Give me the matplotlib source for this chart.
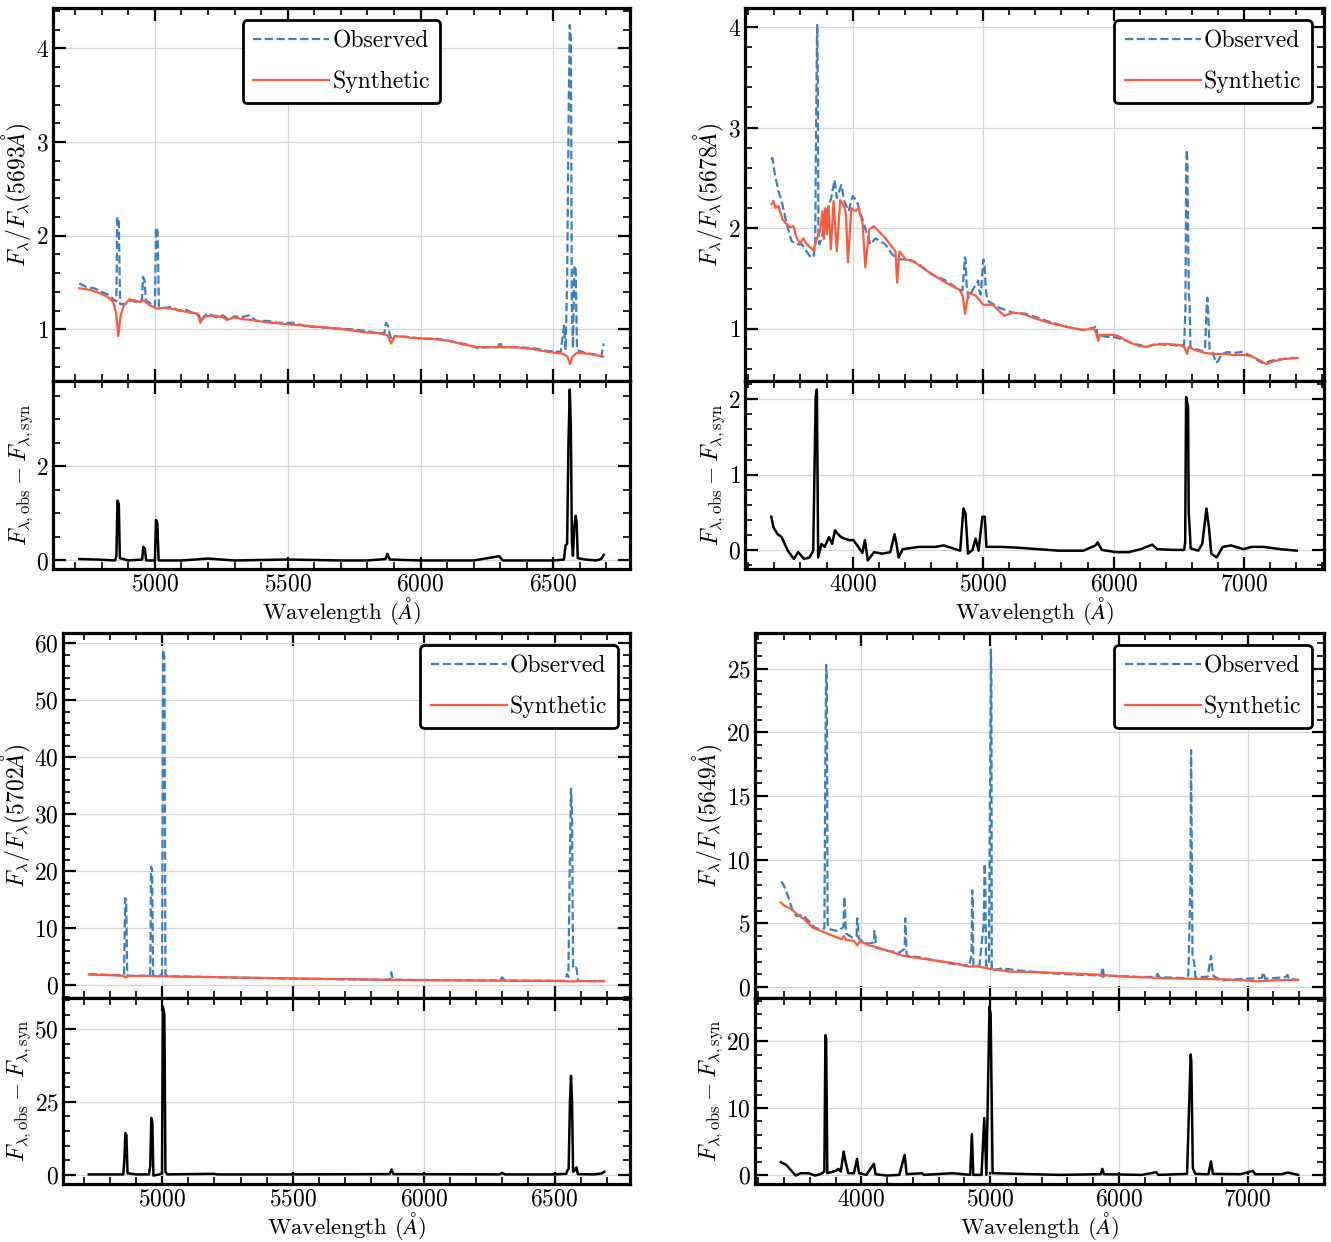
import matplotlib
matplotlib.use("Agg")
import matplotlib.pyplot as plt
from matplotlib.ticker import AutoMinorLocator, MultipleLocator

plt.rcParams['font.family'] = 'serif'
plt.rcParams['font.serif'] = ['cmr10', 'DejaVu Serif']
plt.rcParams['mathtext.fontset'] = 'cm'
plt.rcParams['axes.formatter.use_mathtext'] = True
plt.rcParams['axes.unicode_minus'] = False

# ---- panel 1 (norm 5693) ----
obs1_wave = [4715, 4743, 4771, 4799, 4826, 4847, 4855, 4858, 4864, 4869, 4889, 4910, 4931, 4951, 4955, 4961,
             4966, 4986, 5000, 5004, 5010, 5015, 5035, 5063, 5090, 5118, 5146, 5166, 5174, 5188, 5201, 5229,
             5257, 5278, 5299, 5326, 5354, 5382, 5424, 5465, 5521, 5576, 5632, 5688, 5743, 5799, 5840, 5864,
             5870, 5877, 5884, 5893, 5903, 5951, 6007, 6063, 6118, 6174, 6215, 6257, 6292, 6299, 6307, 6354,
             6424, 6479, 6528, 6540, 6546, 6552, 6558, 6562, 6566, 6570, 6574, 6579, 6584, 6589, 6618, 6660,
             6681, 6690]
obs1_flux = [1.49, 1.45, 1.44, 1.40, 1.37, 1.31, 1.30, 2.20, 2.15, 1.27, 1.27, 1.31, 1.29, 1.31, 1.56, 1.52,
             1.31, 1.27, 1.24, 2.09, 2.05, 1.24, 1.23, 1.24, 1.20, 1.21, 1.17, 1.15, 1.08, 1.15, 1.17, 1.13,
             1.15, 1.10, 1.14, 1.13, 1.15, 1.09, 1.09, 1.07, 1.07, 1.03, 1.02, 1.01, 1.00, 0.98, 0.96, 0.96,
             1.07, 1.04, 0.95, 0.87, 0.93, 0.92, 0.90, 0.90, 0.87, 0.84, 0.80, 0.81, 0.81, 0.87, 0.81, 0.81,
             0.80, 0.77, 0.76, 1.04, 0.78, 1.50, 3.40, 4.25, 4.10, 1.20, 0.80, 1.66, 1.68, 0.78, 0.75, 0.73,
             0.71, 0.85]
syn1_wave = [4715, 4757, 4799, 4826, 4843, 4854, 4862, 4871, 4882, 4903, 4924, 4944, 4958, 4979, 5007, 5035,
             5063, 5097, 5132, 5160, 5171, 5181, 5215, 5257, 5271, 5299, 5326, 5368, 5410, 5479, 5563, 5646,
             5715, 5785, 5840, 5875, 5889, 5903, 5965, 6035, 6104, 6160, 6215, 6285, 6354, 6424, 6479, 6535,
             6553, 6563, 6572, 6590, 6632, 6688]
syn1_flux = [1.44, 1.42, 1.38, 1.34, 1.29, 1.17, 0.93, 1.15, 1.25, 1.32, 1.31, 1.29, 1.31, 1.26, 1.22, 1.23,
             1.22, 1.20, 1.18, 1.17, 1.07, 1.13, 1.15, 1.13, 1.10, 1.13, 1.11, 1.10, 1.08, 1.06, 1.04, 1.02,
             1.00, 0.97, 0.96, 0.94, 0.85, 0.93, 0.91, 0.90, 0.88, 0.84, 0.81, 0.81, 0.81, 0.79, 0.76, 0.74,
             0.71, 0.63, 0.71, 0.75, 0.74, 0.71]
res1_wave = [4715, 4780, 4850, 4855, 4859, 4864, 4868, 4900, 4952, 4956, 4962, 4967, 5000, 5004, 5009, 5014,
             5100, 5200, 5300, 5400, 5500, 5600, 5700, 5800, 5868, 5875, 5884, 6000, 6100, 6200, 6296, 6310,
             6500, 6540, 6546, 6552, 6557, 6562, 6566, 6570, 6574, 6579, 6584, 6588, 6592, 6620, 6660, 6680,
             6690]
res1_flux = [0.03, 0.02, 0.00, 0.10, 1.27, 1.20, 0.05, 0.00, 0.02, 0.29, 0.25, 0.00, 0.00, 0.86, 0.80, 0.00,
             0.00, 0.04, 0.00, 0.01, 0.02, 0.01, 0.00, 0.00, 0.03, 0.14, 0.02, 0.00, 0.00, 0.00, 0.09, 0.00,
             0.00, 0.02, 0.32, 0.35, 2.50, 3.63, 2.80, 0.40, 0.10, 0.70, 0.95, 0.80, 0.05, 0.02, 0.00, 0.03,
             0.12]

# ---- panel 2 (norm 5678) ----
obs2_wave = [3379, 3385, 3405, 3431, 3456, 3495, 3533, 3572, 3610, 3636, 3674, 3700, 3713, 3720, 3726, 3729,
             3733, 3738, 3744, 3764, 3803, 3836, 3862, 3879, 3913, 3936, 3969, 4000, 4033, 4072, 4136, 4174,
             4251, 4303, 4354, 4431, 4508, 4610, 4713, 4815, 4841, 4855, 4859, 4866, 4872, 4885, 4944, 4962,
             4970, 4982, 4996, 5002, 5010, 5020, 5033, 5123, 5226, 5328, 5482, 5640, 5760, 5850, 5865, 5878,
             5900, 5950, 6000, 6050, 6100, 6150, 6200, 6250, 6300, 6350, 6400, 6450, 6500, 6540, 6550, 6556,
             6560, 6565, 6570, 6576, 6582, 6588, 6620, 6680, 6700, 6712, 6718, 6725, 6735, 6760, 6785, 6800,
             6830, 6870, 6920, 6980, 7040, 7090, 7140, 7180, 7230, 7300, 7350, 7410]
obs2_flux = [2.68, 2.70, 2.53, 2.37, 2.27, 2.04, 1.87, 1.84, 1.84, 1.79, 1.72, 1.71, 1.84, 3.00, 3.82, 4.02,
             3.50, 1.90, 1.84, 1.90, 2.17, 2.30, 2.48, 2.30, 2.43, 2.27, 2.17, 2.32, 2.27, 2.10, 1.84, 1.90,
             1.84, 1.74, 1.69, 1.69, 1.64, 1.54, 1.48, 1.39, 1.38, 1.60, 1.71, 1.69, 1.45, 1.31, 1.44, 1.48,
             1.38, 1.34, 1.60, 1.69, 1.64, 1.40, 1.28, 1.21, 1.16, 1.15, 1.08, 1.02, 0.99, 1.01, 1.03, 0.92,
             0.93, 0.92, 0.92, 0.90, 0.88, 0.85, 0.84, 0.82, 0.84, 0.85, 0.84, 0.84, 0.83, 0.84, 1.20, 2.60,
             2.78, 2.65, 2.00, 1.35, 1.25, 0.82, 0.80, 0.78, 0.80, 1.20, 1.31, 1.15, 0.80, 0.76, 0.66, 0.68,
             0.75, 0.77, 0.76, 0.77, 0.74, 0.70, 0.66, 0.67, 0.69, 0.70, 0.71, 0.71]
syn2_wave = [3379, 3392, 3410, 3431, 3462, 3487, 3521, 3546, 3572, 3597, 3623, 3649, 3700, 3726, 3751, 3769,
             3779, 3790, 3803, 3815, 3833, 3854, 3879, 3905, 3931, 3949, 3964, 3990, 4021, 4046, 4077, 4097,
             4128, 4162, 4200, 4251, 4303, 4328, 4341, 4359, 4405, 4469, 4533, 4610, 4713, 4815, 4841, 4862,
             4887, 4944, 5000, 5072, 5162, 5226, 5303, 5405, 5508, 5640, 5760, 5850, 5870, 5882, 5895, 5950,
             6000, 6050, 6100, 6150, 6200, 6250, 6300, 6400, 6500, 6540, 6563, 6575, 6620, 6700, 6780, 6850,
             6920, 7000, 7050, 7100, 7170, 7230, 7300, 7410]
syn2_flux = [2.24, 2.27, 2.20, 2.22, 2.09, 2.05, 2.01, 2.02, 1.90, 1.85, 1.90, 1.84, 1.78, 1.90, 1.97, 2.17,
             1.89, 2.20, 1.94, 2.22, 1.79, 2.27, 1.77, 2.28, 2.23, 2.14, 1.66, 2.20, 2.17, 2.20, 2.04, 1.61,
             1.99, 2.02, 1.97, 1.90, 1.81, 1.77, 1.46, 1.77, 1.69, 1.67, 1.61, 1.54, 1.46, 1.39, 1.34, 1.15,
             1.36, 1.33, 1.24, 1.24, 1.13, 1.16, 1.15, 1.10, 1.06, 1.02, 0.99, 1.00, 0.94, 0.88, 0.94, 0.94,
             0.94, 0.92, 0.88, 0.85, 0.83, 0.82, 0.84, 0.85, 0.84, 0.82, 0.75, 0.82, 0.79, 0.76, 0.75, 0.75,
             0.74, 0.74, 0.73, 0.70, 0.65, 0.68, 0.70, 0.71]
res2_wave = [3377, 3393, 3425, 3456, 3503, 3550, 3582, 3629, 3670, 3698, 3717, 3726, 3736, 3761, 3786, 3818,
             3843, 3865, 3887, 3912, 3937, 3975, 4006, 4044, 4075, 4094, 4116, 4164, 4226, 4289, 4321, 4336,
             4352, 4384, 4509, 4635, 4698, 4824, 4849, 4865, 4884, 4918, 4943, 4965, 4994, 5013, 5025, 5138,
             5264, 5421, 5579, 5767, 5862, 5877, 5909, 6019, 6113, 6208, 6296, 6333, 6459, 6540, 6548, 6555,
             6563, 6570, 6575, 6582, 6590, 6648, 6679, 6711, 6730, 6748, 6789, 6836, 6899, 6994, 7057, 7151,
             7277, 7403]
res2_flux = [0.44, 0.30, 0.21, 0.17, -0.01, -0.12, -0.03, -0.12, -0.10, -0.01, 2.04, 2.13, -0.10, 0.08, 0.04,
             0.17, 0.08, 0.26, 0.21, 0.17, 0.15, 0.13, 0.13, 0.04, -0.04, 0.13, -0.14, -0.03, -0.05, -0.03,
             0.21, 0.08, -0.10, 0.01, 0.04, 0.04, 0.06, -0.01, 0.55, 0.48, -0.05, 0.00, 0.15, -0.01, 0.44,
             0.44, 0.04, 0.04, 0.03, 0.01, -0.01, -0.01, 0.06, 0.10, 0.00, -0.03, -0.03, 0.01, 0.07, 0.01,
             0.00, 0.00, 0.10, 2.03, 1.96, 1.90, 0.50, 0.30, 0.02, -0.01, 0.08, 0.55, 0.30, -0.05, -0.10,
             0.04, 0.06, 0.01, 0.04, 0.04, 0.01, -0.01]

# ---- panel 3 (norm 5702) ----
obs3_wave = [4720, 4800, 4850, 4855, 4859, 4863, 4867, 4900, 4950, 4955, 4958, 4962, 4966, 4990, 5000, 5004,
             5009, 5013, 5020, 5100, 5200, 5300, 5400, 5500, 5600, 5700, 5800, 5870, 5876, 5882, 6000, 6100,
             6200, 6290, 6300, 6310, 6400, 6500, 6540, 6548, 6553, 6558, 6563, 6567, 6571, 6580, 6584, 6590,
             6650, 6690]
obs3_flux = [1.95, 1.85, 1.75, 2.0, 15.3, 15.0, 1.7, 1.7, 1.7, 2.0, 20.8, 20.3, 1.7, 1.65, 2.0, 58.9,
             57.5, 2.0, 1.6, 1.55, 1.45, 1.35, 1.28, 1.2, 1.13, 1.07, 1.02, 1.0, 2.3, 1.0, 0.95, 0.92,
             0.88, 0.86, 1.4, 0.86, 0.82, 0.8, 0.8, 2.0, 1.5, 20.0, 34.5, 30.0, 3.0, 3.2, 3.0, 0.8,
             0.75, 0.8]
syn3_wave = [4720, 4800, 4850, 4862, 4875, 4950, 5000, 5100, 5200, 5300, 5400, 5500, 5600, 5700, 5800, 5890,
             6000, 6100, 6200, 6300, 6400, 6500, 6563, 6600, 6690]
syn3_flux = [1.9, 1.8, 1.7, 1.4, 1.65, 1.65, 1.6, 1.52, 1.45, 1.37, 1.3, 1.22, 1.15, 1.08, 1.03, 0.95,
             0.93, 0.9, 0.86, 0.84, 0.8, 0.78, 0.7, 0.75, 0.72]
res3_wave = [4720, 4800, 4852, 4856, 4860, 4864, 4868, 4900, 4950, 4955, 4959, 4963, 4967, 4990, 5000, 5003,
             5009, 5013, 5020, 5200, 5210, 5500, 5870, 5877, 5884, 6290, 6300, 6310, 6500, 6545, 6549, 6554,
             6559, 6563, 6567, 6571, 6578, 6584, 6589, 6650, 6680, 6690]
res3_flux = [0.1, 0.1, 0.1, 5.0, 14.3, 13.5, 0.5, 0.1, 0.1, 3.0, 19.5, 18.0, -0.3, 0.1, 0.5, 57.8,
             55.0, 1.0, 0.1, 0.3, 0.1, 0.1, 0.2, 1.8, 0.2, 0.1, 0.6, 0.1, 0.1, 0.3, 1.5, 2.0,
             25.0, 34.0, 25.0, 1.0, 1.5, 2.5, 0.2, 0.1, 0.4, 1.0]

# ---- panel 4 (norm 5649) ----
obs4_wave = [3374, 3385, 3406, 3431, 3463, 3495, 3543, 3591, 3639, 3687, 3712, 3720, 3726, 3731, 3737, 3750,
             3790, 3815, 3860, 3866, 3872, 3880, 3927, 3962, 3967, 3973, 3980, 4006, 4054, 4096, 4101, 4107,
             4113, 4198, 4294, 4336, 4340, 4346, 4352, 4454, 4581, 4709, 4837, 4855, 4860, 4865, 4870, 4917,
             4950, 4957, 4963, 4968, 4990, 5002, 5006, 5010, 5013, 5093, 5220, 5380, 5540, 5700, 5863, 5874,
             5885, 6022, 6179, 6290, 6300, 6315, 6498, 6540, 6556, 6561, 6566, 6572, 6585, 6595, 6690, 6708,
             6716, 6725, 6735, 6802, 6978, 7110, 7122, 7137, 7297, 7310, 7320, 7393]
obs4_flux = [8.27, 8.2, 7.75, 7.10, 6.07, 5.56, 5.68, 5.17, 4.65, 4.52, 4.60, 18.0, 25.3, 24.0, 5.0, 4.55,
             4.45, 4.40, 4.70, 7.10, 6.30, 4.20, 3.90, 4.00, 5.40, 4.80, 3.80, 3.60, 3.40, 3.50, 4.40, 4.20,
             3.10, 2.85, 2.70, 3.00, 5.40, 4.00, 2.45, 2.33, 2.07, 1.81, 1.68, 2.5, 7.60, 6.8, 1.68, 1.68,
             5.0, 9.70, 8.0, 1.68, 1.7, 20.0, 26.5, 24.0, 1.30, 1.47, 1.30, 1.16, 1.03, 0.96, 0.90, 1.55,
             0.90, 0.85, 0.78, 0.80, 1.03, 0.78, 0.70, 0.90, 8.0, 18.6, 12.0, 2.3, 2.0, 0.78, 0.80, 2.00,
             2.45, 1.5, 0.85, 0.52, 0.65, 0.70, 1.16, 0.65, 0.78, 0.95, 0.70, 0.52]
syn4_wave = [3374, 3400, 3463, 3500, 3559, 3623, 3687, 3751, 3815, 3847, 3863, 3880, 3942, 3968, 3990, 4040,
             4070, 4102, 4166, 4262, 4326, 4454, 4581, 4709, 4837, 4901, 5000, 5157, 5380, 5700, 5860, 5875,
             5890, 6022, 6342, 6556, 6818, 6978, 7074, 7201, 7393]
syn4_flux = [6.64, 6.40, 6.07, 5.70, 5.30, 4.65, 4.40, 4.13, 3.88, 3.75, 4.00, 3.70, 3.62, 3.28, 3.62, 3.35,
             3.23, 3.18, 2.97, 2.66, 2.45, 2.25, 2.07, 1.89, 1.60, 1.63, 1.42, 1.21, 1.16, 1.03, 0.96, 0.78,
             0.92, 0.83, 0.70, 0.65, 0.60, 0.52, 0.44, 0.52, 0.57]
res4_wave = [3374, 3415, 3457, 3489, 3527, 3591, 3639, 3680, 3712, 3720, 3726, 3735, 3799, 3821, 3840, 3862,
             3879, 3898, 3942, 3966, 3981, 4038, 4097, 4109, 4198, 4294, 4336, 4351, 4470, 4486, 4709, 4845,
             4858, 4869, 4933, 4954, 4971, 4995, 5004, 5019, 5220, 5540, 5860, 5872, 5885, 6179, 6291, 6307,
             6530, 6558, 6563, 6575, 6594, 6696, 6716, 6731, 6946, 7042, 7058, 7265, 7313, 7393]
res4_flux = [1.9, 1.5, 0.6, -0.1, 0.25, 0.25, -0.1, 0.1, 0.5, 20.9, 20.5, 0.25, 0.6, 0.9, 0.5, 3.5,
             1.76, 0.25, 0.25, 2.4, 0.25, 0.0, 1.66, 0.1, -0.1, 0.0, 3.0, 0.1, 0.25, 0.0, 0.25, 0.0,
             6.1, 0.0, 0.0, 8.5, 0.0, 25.2, 24.0, 0.25, 0.15, 0.0, 0.1, 0.9, 0.1, 0.0, 0.4, 0.0,
             0.15, 18.0, 17.0, 1.0, 0.15, 0.1, 2.0, 0.15, 0.1, 0.6, 0.1, 0.1, 0.35, 0.0]

norm_waves = ['5693', '5678', '5702', '5649']
# major tick steps: x, main y, residual y
x_steps = [500, 1000, 500, 1000]
y_steps = [1, 1, 10, 5]
r_steps = [2, 1, 25, 10]

OBS_COLOR = '#3b7fc0'
SYN_COLOR = '#ff5a3d'
W, H = 1331, 1242

# axes boxes in pixels: left, right, top, split, bottom
boxes = [(53, 630, 8, 381, 569),
         (745, 1324, 8, 381, 569),
         (63, 630, 633, 998, 1184),
         (755, 1324, 633, 998, 1184)]
legend_locs = ['upper center', 'upper right', 'upper right', 'upper right']

panels = [(obs1_wave, obs1_flux, syn1_wave, syn1_flux, res1_wave, res1_flux),
          (obs2_wave, obs2_flux, syn2_wave, syn2_flux, res2_wave, res2_flux),
          (obs3_wave, obs3_flux, syn3_wave, syn3_flux, res3_wave, res3_flux),
          (obs4_wave, obs4_flux, syn4_wave, syn4_flux, res4_wave, res4_flux)]


def style(ax, xstep, ystep):
    for s in ax.spines.values():
        s.set_linewidth(2.3)
    ax.xaxis.set_major_locator(MultipleLocator(xstep))
    ax.yaxis.set_major_locator(MultipleLocator(ystep))
    ax.xaxis.set_minor_locator(AutoMinorLocator())
    ax.yaxis.set_minor_locator(AutoMinorLocator())
    ax.tick_params(which='both', direction='in', top=True, right=True, labelsize=17, pad=3)
    ax.tick_params(which='major', length=9, width=1.6)
    ax.tick_params(which='minor', length=5, width=1.2)
    ax.grid(True, which='major', color='#d5d5d5', lw=0.9)


fig = plt.figure(figsize=(W / 100, H / 100), dpi=100)

for i, (ow, of, sw, sf, rw, rf) in enumerate(panels):
    l, r, t, m, b = boxes[i]
    ax = fig.add_axes([l / W, 1 - m / H, (r - l) / W, (m - t) / H])
    axr = fig.add_axes([l / W, 1 - b / H, (r - l) / W, (b - m) / H], sharex=ax)
    ax.plot(ow, of, '--', color=OBS_COLOR, lw=1.6, label='Observed')
    ax.plot(sw, sf, '-', color=SYN_COLOR, lw=1.6, label='Synthetic')
    axr.plot(rw, rf, '-', color='black', lw=1.8)
    style(ax, x_steps[i], y_steps[i])
    style(axr, x_steps[i], r_steps[i])
    ax.tick_params(labelbottom=False)
    ax.set_ylabel(r'$F_\lambda/F_\lambda(%s\AA)$' % norm_waves[i], fontsize=17, labelpad=1)
    axr.set_ylabel(r'$F_{\lambda,\mathrm{obs}} - F_{\lambda,\mathrm{syn}}$', fontsize=17, labelpad=1)
    axr.set_xlabel(r'Wavelength ($\AA$)', fontsize=16.5, labelpad=-0.5)
    leg = ax.legend(loc=legend_locs[i], fontsize=17, handlelength=3.2, handletextpad=0.15,
                    labelspacing=0.75, borderpad=0.45, framealpha=1, fancybox=True)
    leg.get_frame().set_edgecolor('black')
    leg.get_frame().set_linewidth(2.0)

fig.align_ylabels()
fig.savefig('out.png', dpi=100)
